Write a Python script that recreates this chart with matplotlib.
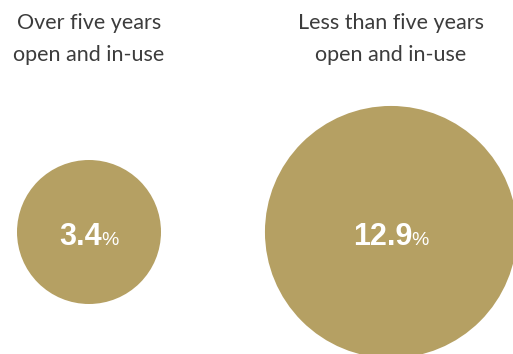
import matplotlib
matplotlib.use("Agg")
import matplotlib.pyplot as plt
from matplotlib.patches import Circle

labels = ["Over five years\nopen and in-use", "Less than five years\nopen and in-use"]
values = [3.4, 12.9]

gold = "#B5A063"
W, H = 513, 354

fig = plt.figure(figsize=(W / 100, H / 100), dpi=100)
ax = fig.add_axes([0, 0, 1, 1])
ax.set_xlim(0, W)
ax.set_ylim(H, 0)
ax.set_aspect("equal")
ax.axis("off")

centers_x = [89, 391]
center_y = 232
# radius grows a bit slower than sqrt so the big one still fits
def radius(v):
    return 72 * (v / values[0]) ** 0.42

for cx, v, lab in zip(centers_x, values, labels):
    ax.add_patch(Circle((cx, center_y), radius(v), color=gold, lw=0))
    ax.text(cx, 39, lab, ha="center", va="center", fontsize=15.5,
            family="Lato", color="#3c3c3c", linespacing=1.8)

fig.canvas.draw()
r = fig.canvas.get_renderer()
for cx, v in zip(centers_x, values):
    num = ax.text(0, 0, f"{v:.1f}", ha="left", va="baseline", fontsize=22,
                  family="Liberation Sans", weight="bold", color="white")
    pct = ax.text(0, 0, "%", ha="left", va="baseline", fontsize=14,
                  family="Liberation Sans", color="white")
    wn = num.get_window_extent(r).width - 0.5
    wp = pct.get_window_extent(r).width
    x0 = cx - (wn + wp) / 2
    base = center_y + 13
    num.set_position((x0, base))
    pct.set_position((x0 + wn, base))

fig.savefig("out.png", dpi=100)
